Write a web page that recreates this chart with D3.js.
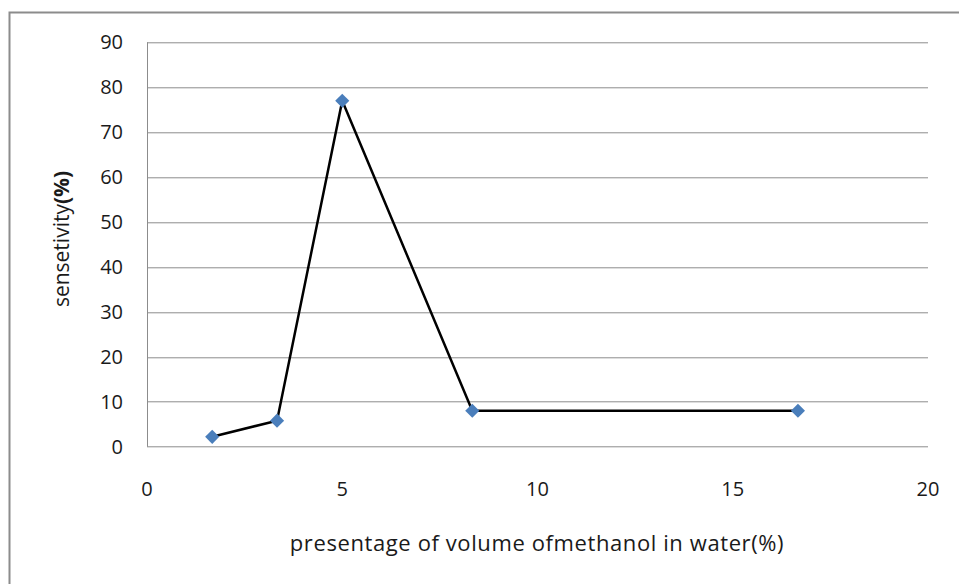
<!DOCTYPE html>
<html>
<head>
<meta charset="utf-8">
<script src="https://cdn.jsdelivr.net/npm/d3@7"></script>
<style>
  body { margin: 0; background: #fff; }
  svg { display: block; font-family: "Open Sans", "Noto Sans", sans-serif; }
</style>
</head>
<body>
<svg id="chart" width="959" height="584"></svg>
<script>
// methanol volume (%) vs sensitivity (%)
const xValues = [1.67, 3.33, 5, 8.33, 16.67];
const yValues = [2.2, 5.8, 77, 8, 8];
const xTicks = [0, 5, 10, 15, 20];
const yTicks = [0, 10, 20, 30, 40, 50, 60, 70, 80, 90];

const margin = {top: 42.3, right: 31, bottom: 137.3, left: 147};
const width = 959 - margin.left - margin.right;
const height = 584 - margin.top - margin.bottom;

const svg = d3.select("#chart");

// outer frame (right and bottom edges fall outside the picture)
svg.append("rect")
    .attr("x", 9.5)
    .attr("y", 12.5)
    .attr("width", 1000)
    .attr("height", 1000)
    .attr("fill", "none")
    .attr("stroke", "#8c8c8c")
    .attr("stroke-width", 2);

const x = d3.scaleLinear().domain([0, 20]).range([0, width]);
const y = d3.scaleLinear().domain([0, 90]).range([height, 0]);

const chart = svg.append("g")
    .attr("transform", `translate(${ margin.left },${ margin.top })`);

// horizontal gridlines
chart.append("g")
    .selectAll("line")
    .data(yTicks.filter((d) => d > 0))
  .enter().append("line")
    .attr("x1", 0)
    .attr("x2", width)
    .attr("y1", (d) => Math.round(y(d)) + 0.5)
    .attr("y2", (d) => Math.round(y(d)) + 0.5)
    .attr("stroke", "#8c8c8c")
    .attr("stroke-width", 1);

// axes lines
chart.append("line")
    .attr("x1", 0).attr("x2", width)
    .attr("y1", Math.round(y(0)) + 0.5).attr("y2", Math.round(y(0)) + 0.5)
    .attr("stroke", "#8c8c8c");
chart.append("line")
    .attr("x1", 0.5).attr("x2", 0.5)
    .attr("y1", 0).attr("y2", y(0))
    .attr("stroke", "#8c8c8c");

// tick labels
chart.append("g")
    .selectAll("text")
    .data(yTicks)
  .enter().append("text")
    .attr("x", -24)
    .attr("y", (d) => y(d))
    .attr("dy", "0.35em")
    .attr("text-anchor", "end")
    .attr("font-size", 20)
    .attr("fill", "#1a1a1a")
    .text((d) => d);

chart.append("g")
    .selectAll("text")
    .data(xTicks)
  .enter().append("text")
    .attr("x", (d) => x(d))
    .attr("y", height + 42)
    .attr("dy", "0.35em")
    .attr("text-anchor", "middle")
    .attr("font-size", 20)
    .attr("fill", "#1a1a1a")
    .text((d) => d);

// axis titles
svg.append("text")
    .attr("x", 537)
    .attr("y", 543)
    .attr("dy", "0.35em")
    .attr("text-anchor", "middle")
    .attr("font-size", 22)
    .attr("letter-spacing", 0.6)
    .attr("fill", "#1a1a1a")
    .text("presentage of volume ofmethanol in water(%)");

const yTitle = svg.append("text")
    .attr("transform", "translate(62,239) rotate(-90)")
    .attr("dy", "0.35em")
    .attr("text-anchor", "middle")
    .attr("font-size", 21)
    .attr("fill", "#1a1a1a");
yTitle.append("tspan").text("sensetivity");
yTitle.append("tspan").attr("font-weight", "bold").text("(%)");

// data line
const points = xValues.map((d, i) => [d, yValues[i]]);

chart.append("path")
    .datum(points)
    .attr("fill", "none")
    .attr("stroke", "#000")
    .attr("stroke-width", 2.5)
    .attr("d", d3.line()
      .x((d) => x(d[0]))
      .y((d) => y(d[1])));

chart.selectAll(".marker")
    .data(points)
  .enter().append("path")
    .attr("class", "marker")
    .attr("d", d3.symbol().type(d3.symbolSquare).size(100))
    .attr("transform", (d) => `translate(${ x(d[0]) },${ y(d[1]) }) rotate(45)`)
    .attr("fill", "#4a7ebb");
</script>
</body>
</html>
